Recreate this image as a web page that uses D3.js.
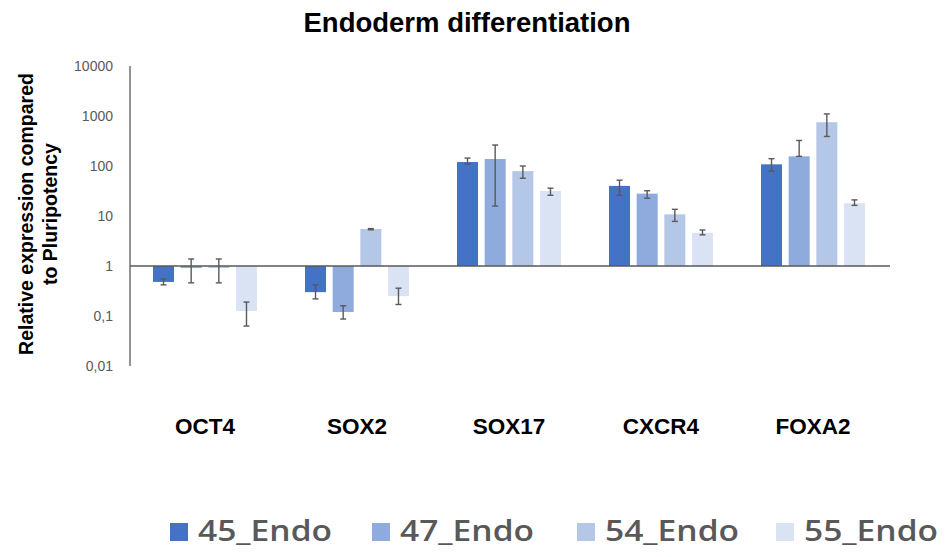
<!DOCTYPE html>
<html>
<head>
<meta charset="utf-8">
<script src="https://cdn.jsdelivr.net/npm/d3@7"></script>
<style>
  html, body { margin: 0; padding: 0; background: #ffffff; }
  svg { display: block; }
</style>
</head>
<body>
<svg id="chart" width="952" height="557"></svg>
<script>
// ---- Data ----
const categories = ["OCT4", "SOX2", "SOX17", "CXCR4", "FOXA2"];
const seriesNames = ["45_Endo", "47_Endo", "54_Endo", "55_Endo"];
const values45 = [0.48, 0.30, 120, 40, 108];
const values47 = [0.91, 0.12, 138, 28, 156];
const values54 = [0.91, 5.5, 79, 10.8, 750];
const values55 = [0.126, 0.25, 31.6, 4.6, 18];
const errLow45 = [0.42, 0.22, 110, 26, 79];
const errHigh45 = [0.55, 0.42, 144, 52, 140];
const errLow47 = [0.46, 0.087, 15.8, 22.7, 156];
const errHigh47 = [1.38, 0.16, 263, 32, 324];
const errLow54 = [0.46, 5.3, 57, 7.8, 390];
const errHigh54 = [1.38, 5.6, 100, 13.6, 1100];
const errLow55 = [0.063, 0.17, 26, 4.2, 16.3];
const errHigh55 = [0.19, 0.36, 36, 5.25, 21];
const yTickValues = [0.01, 0.1, 1, 10, 100, 1000, 10000];
const yTickLabels = ["0,01", "0,1", "1", "10", "100", "1000", "10000"];
const colors = ["#4472C4", "#8FAADC", "#B4C7E7", "#DAE3F3"];

const seriesValues = [values45, values47, values54, values55];
const seriesLow = [errLow45, errLow47, errLow54, errLow55];
const seriesHigh = [errHigh45, errHigh47, errHigh54, errHigh55];

const table = [];
categories.forEach((c, ci) => {
  seriesNames.forEach((s, si) => {
    table.push({ cat: c, series: s, si: si, v: seriesValues[si][ci], lo: seriesLow[si][ci], hi: seriesHigh[si][ci] });
  });
});

// ---- Layout ----
const svg = d3.select("#chart");
const plotLeft = 129, plotRight = 889;

const x0 = d3.scaleBand().domain(categories).range([plotLeft, plotRight]).padding(0);
const x1 = d3.scaleBand().domain(seriesNames).range([24, 128]).paddingInner(0.24).paddingOuter(0);
const y = d3.scaleLog().domain([0.01, 10000]).range([366, 66]);
const color = d3.scaleOrdinal().domain(seriesNames).range(colors);

// Title
svg.append("text")
  .attr("x", 467).attr("y", 32)
  .attr("text-anchor", "middle")
  .attr("font-family", "Liberation Sans, Arial, sans-serif")
  .attr("font-weight", "bold")
  .attr("font-size", 27.5)
  .attr("fill", "#000")
  .text("Endoderm differentiation");

// Y axis title (two lines)
const yTitle = [["Relative expression compared", 33], ["to Pluripotency", 57]];
yTitle.forEach(([t, bx]) => {
  svg.append("text")
    .attr("transform", `translate(${bx},214) rotate(-90)`)
    .attr("text-anchor", "middle")
    .attr("font-family", "Liberation Sans, Arial, sans-serif")
    .attr("font-weight", "bold")
    .attr("font-size", 19.5)
    .attr("fill", "#000")
    .text(t);
});

// Bars
const g = svg.append("g");
g.selectAll("rect.bar")
  .data(table)
  .join("rect")
  .attr("class", "bar")
  .attr("x", d => x0(d.cat) + x1(d.series))
  .attr("width", x1.bandwidth())
  .attr("y", d => Math.min(y(d.v), y(1)))
  .attr("height", d => Math.abs(y(d.v) - y(1)))
  .attr("fill", d => color(d.series));

// Y axis
const yAxis = d3.axisLeft(y)
  .tickValues(yTickValues)
  .tickFormat((d, i) => yTickLabels[i])
  .tickSize(0)
  .tickPadding(17);
const ya = svg.append("g").attr("transform", `translate(${plotLeft + 1},0)`).call(yAxis);
ya.select(".domain").attr("stroke", "#595959").attr("stroke-width", 1.3)
  .attr("d", `M0,${y(0.01)}V${y(10000)}`);
ya.selectAll("text")
  .attr("font-family", "Liberation Sans, Arial, sans-serif")
  .attr("font-size", 14)
  .attr("fill", "#595959");

// Baseline at 1
svg.append("line")
  .attr("x1", plotLeft + 1).attr("x2", plotRight + 1)
  .attr("y1", y(1)).attr("y2", y(1))
  .attr("stroke", "#595959").attr("stroke-width", 1.5);

// Error bars
const eg = svg.append("g").attr("stroke", "#595959").attr("stroke-width", 1.4).attr("fill", "none");
const cap = 3;
table.forEach(d => {
  const cx = x0(d.cat) + x1(d.series) + x1.bandwidth() / 2;
  eg.append("line").attr("x1", cx).attr("x2", cx).attr("y1", y(d.lo)).attr("y2", y(d.hi));
  eg.append("line").attr("x1", cx - cap).attr("x2", cx + cap).attr("y1", y(d.lo)).attr("y2", y(d.lo));
  eg.append("line").attr("x1", cx - cap).attr("x2", cx + cap).attr("y1", y(d.hi)).attr("y2", y(d.hi));
});

// Category labels
const xAxis = d3.axisBottom(x0).tickSize(0).tickPadding(0);
const xa = svg.append("g").attr("transform", `translate(0,418)`).call(xAxis);
xa.select(".domain").remove();
xa.selectAll("text")
  .attr("dy", "0.71em")
  .attr("font-family", "Liberation Sans, Arial, sans-serif")
  .attr("font-weight", "bold")
  .attr("font-size", 22.5)
  .attr("fill", "#000");

// Legend
const legendX = [170, 372, 577, 776];
const lg = svg.append("g");
seriesNames.forEach((s, i) => {
  lg.append("rect")
    .attr("x", legendX[i]).attr("y", 523)
    .attr("width", 18).attr("height", 18)
    .attr("fill", color(s));
  lg.append("text")
    .attr("x", legendX[i] + 28).attr("y", 541)
    .attr("font-family", "Open Sans, sans-serif")
    .attr("font-weight", 600)
    .attr("font-size", 29)
    .attr("fill", "#595959")
    .attr("textLength", 134)
    .attr("lengthAdjust", "spacingAndGlyphs")
    .text(s);
});
</script>
</body>
</html>
